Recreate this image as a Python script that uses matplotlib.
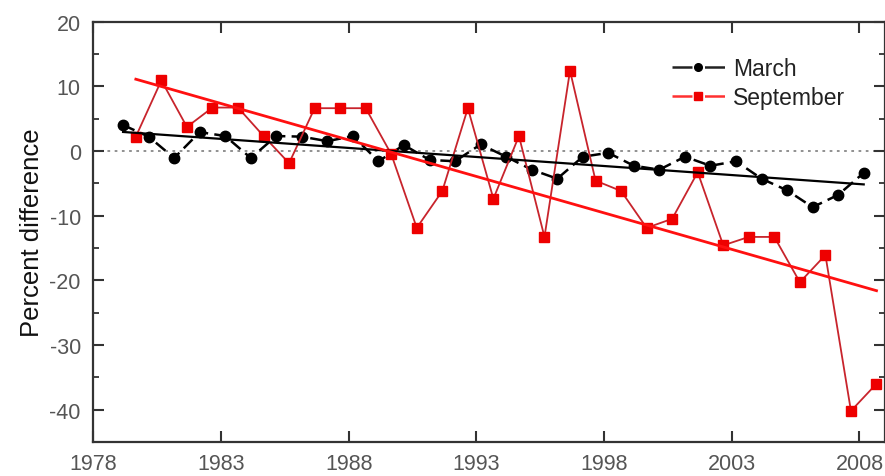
import numpy as np
import matplotlib
matplotlib.use("Agg")
from matplotlib import pyplot as plt
from matplotlib.lines import Line2D
from matplotlib.ticker import MultipleLocator

plt.rcParams['font.family'] = ['Liberation Sans', 'DejaVu Sans']
plt.rcParams['axes.unicode_minus'] = False

# data
years = np.arange(1979, 2009)
march_month = 3
sept_month = 9
march = [4.0, 2.2, -1.1, 2.9, 2.3, -1.1, 2.3, 2.2, 1.5, 2.3,
         -1.6, 0.9, -1.4, -1.6, 1.0, -0.9, -2.9, -4.3, -0.9, -0.3,
         -2.3, -2.9, -0.9, -2.3, -1.6, -4.3, -6.1, -8.7, -6.8, -3.4]
september = [2.2, 10.9, 3.7, 6.7, 6.7, 2.3, -1.9, 6.6, 6.6, 6.6,
             -0.5, -11.9, -6.2, 6.6, -7.4, 2.3, -13.3, 12.4, -4.6, -6.2,
             -11.9, -10.5, -3.3, -14.6, -13.3, -13.3, -20.3, -16.1, -40.2, -36.0]
yticks = [-40, -30, -20, -10, 0, 10, 20]
xticks = [1978, 1983, 1988, 1993, 1998, 2003, 2008]


def month_x(yrs, month):
    # plot each value at the start of its month, in fractional years
    return yrs + (month - 1) / 12.0


def trend(x, y):
    k, b = np.polyfit(x, y, 1)
    xs = np.array([x[0], x[-1]])
    return xs, k * xs + b


def main():
    fig = plt.figure(figsize=(8.85, 4.77), dpi=100)
    ax = fig.add_axes([0.1054, 0.0713, 0.8946, 0.8815])

    xm = month_x(years, march_month)
    xs = month_x(years, sept_month)

    ax.axhline(0, color='#888888', lw=1.3, ls=(0, (1.5, 2.5)), zorder=1)

    ax.plot(xm, march, color='black', lw=1.8, ls=(0, (5, 2.5)),
            marker='o', ms=7.5, mfc='black', mec='black', zorder=3)
    ax.plot(xs, september, color='#c8242c', lw=1.3, ls='-',
            marker='s', ms=7, mfc='#ee0000', mec='#ee0000', zorder=3)

    tx, ty = trend(xm, np.array(march))
    ax.plot(tx, ty, color='black', lw=1.6, zorder=4)
    tx, ty = trend(xs, np.array(september))
    ax.plot(tx, ty, color='#ff1010', lw=2.0, zorder=4)

    ax.set_xlim(1978, 2009)
    ax.set_ylim(-45, 20)
    ax.set_xticks(xticks)
    ax.set_yticks(yticks)
    ax.set_xticklabels([str(t) for t in xticks])
    ax.set_yticklabels([str(t) for t in yticks])
    ax.yaxis.set_minor_locator(MultipleLocator(5))

    ax.tick_params(which='both', direction='in', top=True, right=True,
                   colors='#333333', labelcolor='#555555', labelsize=15.5)
    ax.tick_params(which='major', length=8, width=1.5)
    ax.tick_params(which='minor', length=4, width=1.3)
    ax.tick_params(axis='y', pad=9)
    ax.tick_params(axis='x', pad=8)
    for s in ax.spines.values():
        s.set_linewidth(1.6)
        s.set_color('#333333')

    ax.set_ylabel('Percent difference', fontsize=18.5, color='#111111', labelpad=4)

    # legend handles: line - symbol - line, with gaps around the symbol
    handles = [
        Line2D([], [], color='#222222', lw=1.8, ls=(0, (8, 5)),
               marker='o', ms=5.5, mfc='black', mec='black'),
        Line2D([], [], color='#ff3030', lw=1.8, ls=(0, (8, 5)),
               marker='s', ms=6, mfc='#ee0000', mec='#ee0000'),
    ]
    leg = ax.legend(handles, ['March', 'September'], loc='upper left',
                    bbox_to_anchor=(672 / 885, 1 - 58 / 477),
                    bbox_transform=fig.transFigure, frameon=False, fontsize=16.5,
                    handlelength=2.3, handletextpad=0.35, labelspacing=0.28,
                    borderpad=0, borderaxespad=0)
    for t in leg.get_texts():
        t.set_color('#222222')

    fig.savefig('out.png', dpi=100)


if __name__ == "__main__":
    main()
